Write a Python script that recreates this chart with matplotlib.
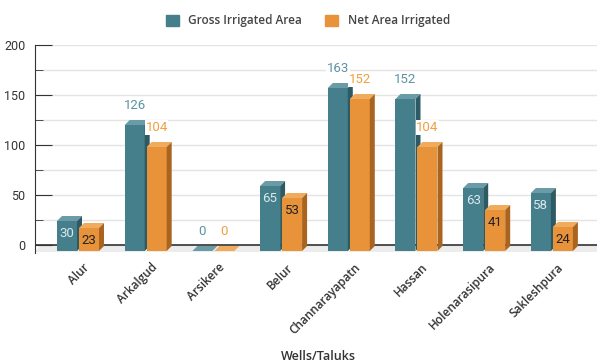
import matplotlib
matplotlib.use("Agg")
import matplotlib.pyplot as plt
from matplotlib.patches import Polygon, Patch

categories = ["Alur", "Arkalgud", "Arsikere", "Belur", "Channarayapatn",
              "Hassan", "Holenarasipura", "Sakleshpura"]
gross = [30, 126, 0, 65, 163, 152, 63, 58]
net = [23, 104, 0, 53, 152, 104, 41, 24]

series = [("Gross Irrigated Area", gross), ("Net Area Irrigated", net)]
# front, top, side, outside-label, inside-label
colors = [("#457f8c", "#6b9ba6", "#2d5a63", "#5b93a3", "#dbe9ed"),
          ("#e8923a", "#f1ab5c", "#a9651f", "#f0a040", "#222222")]

W, H = 599, 363
fig = plt.figure(figsize=(W / 100, H / 100), dpi=100)
ax = fig.add_axes([35 / W, (H - 253) / H, 562 / W, 208 / H])

ux = 67.7  # pixels per category
xmin = -0.635
xmax = xmin + 562 / ux
ax.set_xlim(xmin, xmax)
ax.set_ylim(-8, 200)  # one data unit = one pixel vertically

dx = 5 / ux   # depth, horizontal
dy = 5        # depth, vertical
drop = 6      # front faces sit below the back plane
bw = 20 / ux

# grid / axis
ax.set_yticks(range(0, 201, 50))
ax.set_yticks(range(0, 201, 25), minor=True)
ax.grid(True, which="both", axis="y", color="#e4e4e4", lw=1, zorder=0)
ax.set_xticks([])
for s in ["top", "right", "bottom"]:
    ax.spines[s].set_visible(False)
ax.spines["left"].set_color("#333333")
ax.tick_params(axis="y", which="major", direction="in", length=12, color="#333333",
               labelsize=9, labelcolor="#333333", pad=7)
ax.tick_params(axis="y", which="minor", direction="in", length=6, color="#333333")
for lab in ax.get_yticklabels():
    lab.set_fontfamily("Roboto")

# floor
ax.add_patch(Polygon([(xmin, -7), (xmax, -7), (xmax, 0), (xmin + dx, 0)],
                     closed=True, color="#ececec", lw=0, zorder=1))
ax.plot([xmin, xmax], [0, 0], color="#333333", lw=1.2, zorder=2)

for si, (name, vals) in enumerate(series):
    front, top, side, outc, inc = colors[si]
    for i, v in enumerate(vals):
        left = i - 21 / ux if si == 0 else i + 1 / ux
        z = 3 + si * 2
        ax.bar(left, v, bottom=-drop, width=bw, align="edge", color=front,
               lw=0, zorder=z)
        ax.add_patch(Polygon([(left, v - drop), (left + bw, v - drop),
                              (left + bw + dx, v - drop + dy), (left + dx, v - drop + dy)],
                             closed=True, color=top, lw=0, zorder=z))
        if v > 0:
            ax.add_patch(Polygon([(left + bw, -drop), (left + bw + dx, -drop + dy),
                                  (left + bw + dx, v - drop + dy), (left + bw, v - drop)],
                                 closed=True, color=side, lw=0, zorder=z))
        if 0 < v < 100:
            ax.text(left + bw / 2, v - 22, str(v), ha="center", va="baseline",
                    fontsize=9.5, color=inc, family="Roboto", zorder=9)
        else:
            ax.text(left + bw / 2, v + 10, str(v), ha="center", va="baseline",
                    fontsize=9.5, color=outc, family="Roboto", zorder=9,
                    bbox=dict(boxstyle="square,pad=0.05", fc="white", ec="none"))

for i, c in enumerate(categories):
    ax.text(i + 5 / ux, -16, c, rotation=45, rotation_mode="anchor",
            ha="right", va="top", fontsize=8.5, color="#333333",
            family="Open Sans", fontweight="semibold", clip_on=False)

handles = [Patch(color=colors[k][0], label=series[k][0]) for k in range(2)]
fig.legend(handles=handles, loc="upper center", bbox_to_anchor=(0.514, 0.99), ncol=2,
           frameon=False, handlelength=1.1, handleheight=1.1, handletextpad=0.8,
           columnspacing=2.0, prop={"family": "Open Sans", "weight": "semibold", "size": 8.5},
           labelcolor="#444444")

fig.text(318 / W, 1 - 356 / H, "Wells/Taluks", ha="center", va="center",
         fontsize=9, color="#333333", family="Open Sans", fontweight="semibold")

fig.savefig("out.png", dpi=100)
